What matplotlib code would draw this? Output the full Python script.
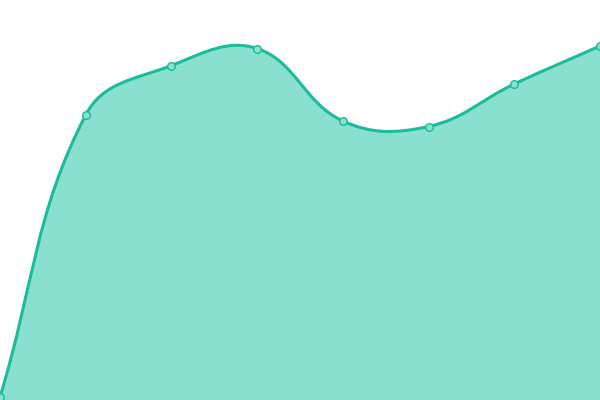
import numpy as np
import matplotlib
matplotlib.use("Agg")
import matplotlib.pyplot as plt
from matplotlib.path import Path
from matplotlib.patches import PathPatch

categories = ["A", "B", "C", "D", "E", "F", "G", "H"]
values = [3, 285, 334.5, 351.5, 279, 273.5, 316, 354]

LINE = "#1bbc9b"
FILL = "#89e0cf"

fig = plt.figure(figsize=(6, 4), dpi=100)
ax = fig.add_axes([0, 0, 1, 1])
ax.set_xlim(0, len(categories) - 1)
ax.set_ylim(0, 400)
ax.axis("off")

x = np.arange(len(categories), dtype=float)
y = np.array(values, dtype=float)

# spline smoothing in pixel space (tension 0.4)
pts = ax.transData.transform(np.column_stack([x, y]))
tension = 0.4
n = len(pts)
cps_next = []
cps_prev = []
for i in range(n):
    p = pts[i]
    prev = pts[i - 1] if i > 0 else p
    nxt = pts[i + 1] if i < n - 1 else p
    d01 = np.linalg.norm(p - prev)
    d12 = np.linalg.norm(nxt - p)
    tot = d01 + d12
    s01 = d01 / tot if tot else 0
    s12 = d12 / tot if tot else 0
    fa = tension * s01
    fb = tension * s12
    cps_prev.append(p - fa * (nxt - prev))
    cps_next.append(p + fb * (nxt - prev))

verts = [tuple(pts[0])]
codes = [Path.MOVETO]
for i in range(n - 1):
    verts += [tuple(cps_next[i]), tuple(cps_prev[i + 1]), tuple(pts[i + 1])]
    codes += [Path.CURVE4] * 3

inv = ax.transData.inverted()
dverts = inv.transform(np.array(verts))
line_path = Path(dverts, codes)

fill_verts = list(dverts) + [(x[-1], 0), (x[0], 0), tuple(dverts[0])]
fill_codes = codes + [Path.LINETO, Path.LINETO, Path.CLOSEPOLY]
ax.add_patch(PathPatch(Path(fill_verts, fill_codes), facecolor=FILL, edgecolor="none", zorder=1))
ax.add_patch(PathPatch(line_path, facecolor="none", edgecolor=LINE, lw=2.2, zorder=2, capstyle="round"))
ax.plot(x, y, linestyle="none", marker="o", ms=5.5, mfc=FILL, mec=LINE, mew=1.0, zorder=3, clip_on=False)

fig.savefig("out.png", dpi=100)
